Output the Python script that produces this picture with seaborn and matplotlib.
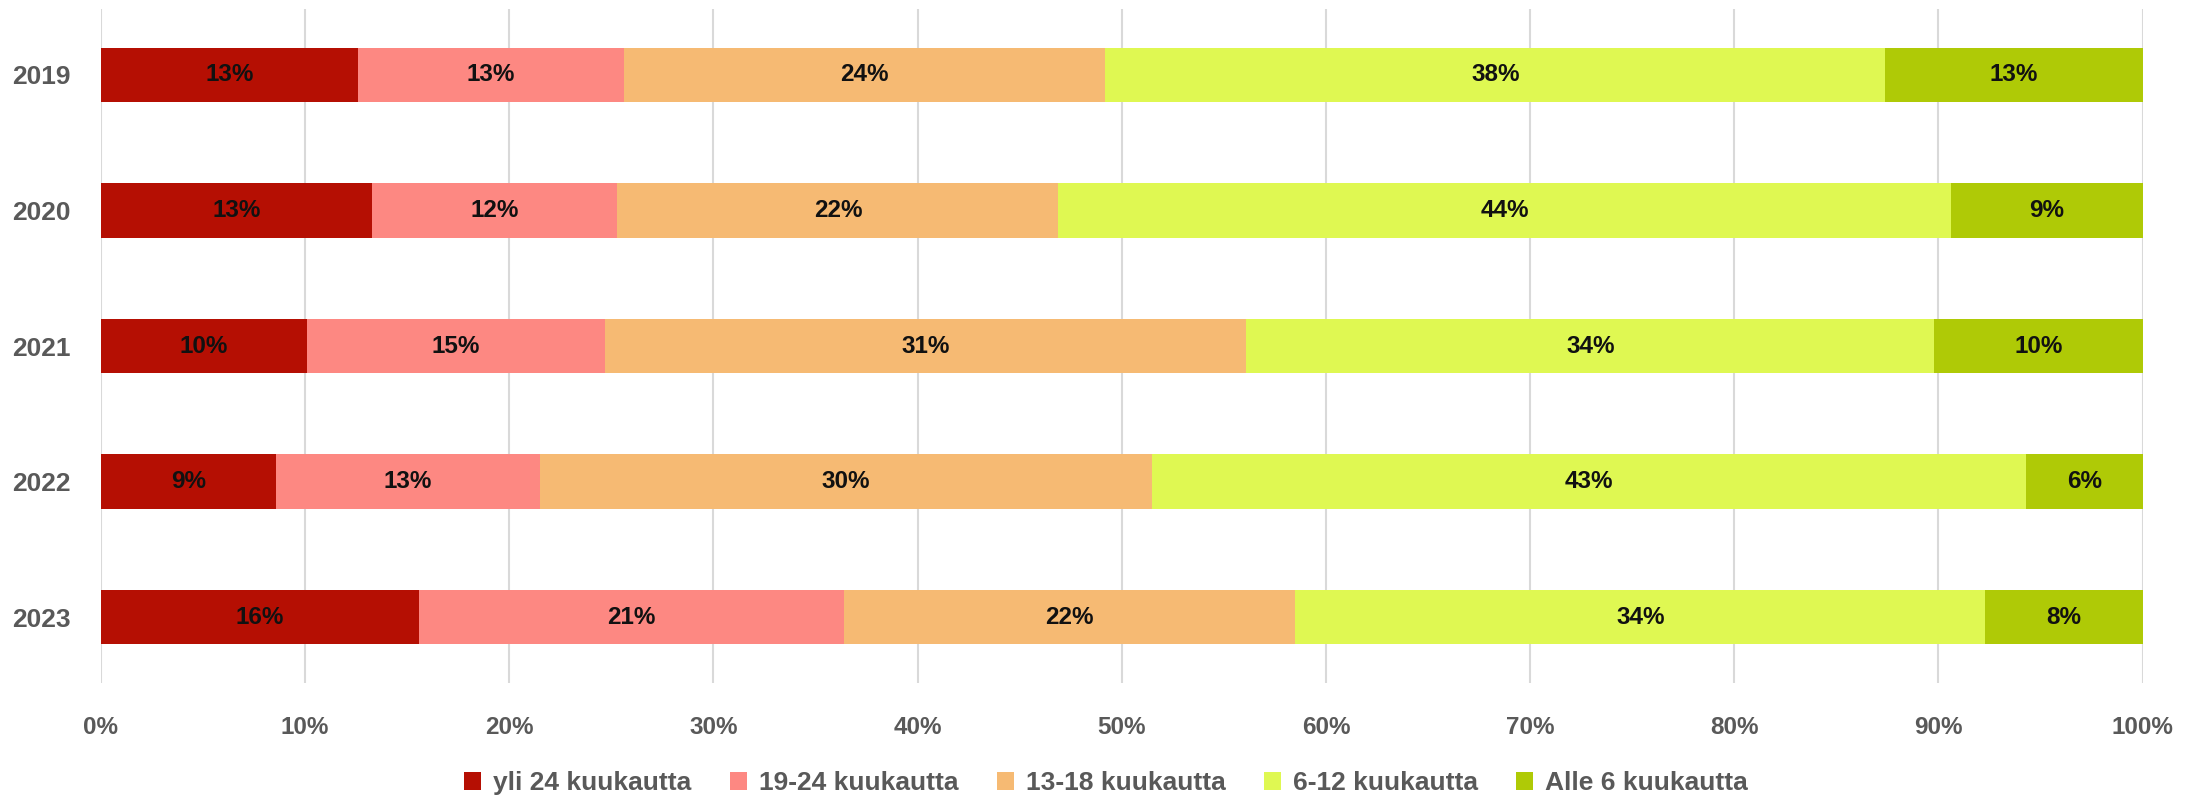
import matplotlib
matplotlib.use("Agg")
import matplotlib.pyplot as plt
import seaborn as sns
import numpy as np
import pandas as pd
from matplotlib.patches import Patch

years = ["2019", "2020", "2021", "2022", "2023"]
series_names = ["yli 24 kuukautta", "19-24 kuukautta", "13-18 kuukautta",
                "6-12 kuukautta", "Alle 6 kuukautta"]
yli24 = [12.6, 13.3, 10.1, 8.6, 15.6]
k19_24 = [13.0, 12.0, 14.6, 12.9, 20.8]
k13_18 = [23.6, 21.6, 31.4, 30.0, 22.1]
k6_12 = [38.2, 43.7, 33.7, 42.8, 33.8]
alle6 = [12.6, 9.4, 10.2, 5.7, 7.7]
colors = ["#B50F03", "#FD8882", "#F6BA73", "#DFF852", "#AFCA06"]
xticks = [0, 10, 20, 30, 40, 50, 60, 70, 80, 90, 100]

sns.set_theme(style="white")
plt.rcParams['font.family'] = ['Liberation Sans', 'DejaVu Sans']
plt.rcParams['font.weight'] = 'bold'

data = [yli24, k19_24, k13_18, k6_12, alle6]
df = pd.DataFrame({name: vals for name, vals in zip(series_names, data)})
df["year"] = years
cum = df[series_names].cumsum(axis=1)

fig = plt.figure(figsize=(22.03, 7.97), dpi=100)
ax = fig.add_axes([0.0458, 0.143, 0.9268, 0.8457])

# vertical gridlines behind
for t in xticks:
    ax.axvline(t, color="#D9D9D9", lw=1.5, zorder=0)

# draw cumulative bars from last to first (overlay stacking)
for i in range(len(series_names) - 1, -1, -1):
    sns.barplot(x=cum[series_names[i]], y=df["year"], orient="h",
                color=colors[i], width=0.4, ax=ax, saturation=1,
                linewidth=0, zorder=2)

# labels
for i, name in enumerate(series_names):
    for j, y in enumerate(years):
        v = df[name][j]
        mid = cum[name][j] - v / 2
        ax.text(mid, j, f"{v:.0f}%", ha="center", va="center",
                fontsize=17.5, fontweight="bold", color="#111111", zorder=3)

ax.set_xlim(0, 100)
ax.set_ylim(4.487, -0.487)
ax.set_xticks(xticks)
ax.set_xticklabels([f"{t}%" for t in xticks])
ax.set_xlabel("")
ax.set_ylabel("")
for s in ax.spines.values():
    s.set_visible(False)
ax.grid(False)
ax.tick_params(axis="x", length=0, pad=24, labelsize=17.5, labelcolor="#595959")
ax.tick_params(axis="y", length=0, pad=22, labelsize=19, labelcolor="#595959")
for lab in ax.get_xticklabels() + ax.get_yticklabels():
    lab.set_fontweight("bold")

handles = [Patch(facecolor=c, edgecolor="none", label=n) for c, n in zip(colors, series_names)]
leg = fig.legend(handles=handles, loc="center", bbox_to_anchor=(0.502, 0.017),
                 ncol=5, frameon=False, fontsize=19, handlelength=0.65,
                 handleheight=0.65, handletextpad=0.45, columnspacing=1.45)
for t in leg.get_texts():
    t.set_color("#595959")
    t.set_fontweight("bold")

fig.savefig("out.png", dpi=100)
